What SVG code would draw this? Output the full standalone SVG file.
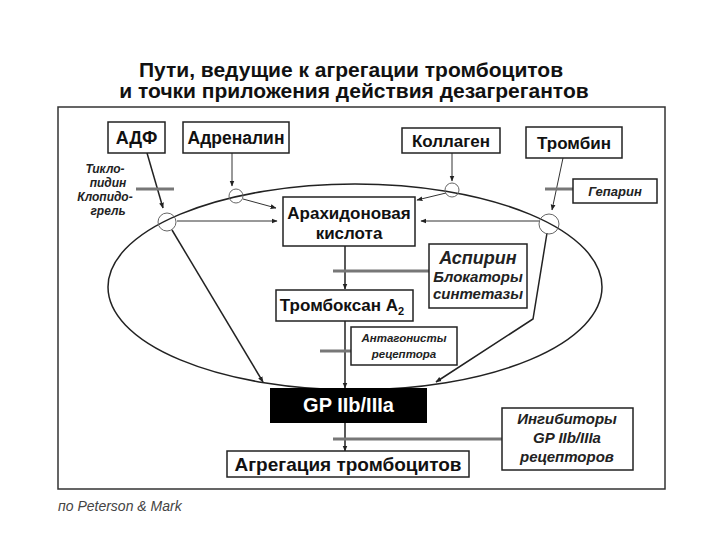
<svg xmlns="http://www.w3.org/2000/svg" width="720" height="540" viewBox="0 0 720 540">
<defs>
<style>
.box{fill:#fff;stroke:#222;stroke-width:1.5}
.bt{font-family:"Liberation Sans",Arial,sans-serif;font-weight:bold;fill:#111;text-anchor:middle}
.it{font-family:"Liberation Sans",Arial,sans-serif;font-style:italic;font-weight:bold;fill:#222;text-anchor:middle}
.ln{fill:none;stroke:#222;stroke-width:1.5}
.thin{fill:none;stroke:#333;stroke-width:1}
.bar{stroke:#777;stroke-width:3;fill:none}
.rc{fill:none;stroke:#666;stroke-width:1}
</style>
<marker id="ah" viewBox="0 0 10 10" refX="9" refY="5" markerWidth="6" markerHeight="6" orient="auto-start-reverse" markerUnits="userSpaceOnUse"><path d="M0,1 L10,5 L0,9 z" fill="#222"/></marker>
</defs>
<rect width="720" height="540" fill="#fff"/>
<g id="title">
<text class="bt" x="351" y="77" font-size="21">Пути, ведущие к агрегации тромбоцитов</text>
<text class="bt" x="354" y="98" font-size="21">и точки приложения действия дезагрегантов</text>
</g>
<rect x="58" y="107" width="607" height="382" fill="none" stroke="#333" stroke-width="1.5"/>
<ellipse id="cell" cx="355" cy="287" rx="247" ry="103" fill="none" stroke="#222" stroke-width="1.5"/>
<g id="connectors">
<line class="ln" x1="147" y1="153" x2="163" y2="208" marker-end="url(#ah)"/>
<line class="ln" x1="172" y1="230" x2="263" y2="382" marker-end="url(#ah)"/>
<line class="thin" x1="177" y1="221" x2="277" y2="221" marker-end="url(#ah)"/>
<line class="thin" x1="232" y1="153" x2="232" y2="186" marker-end="url(#ah)"/>
<line class="thin" x1="243" y1="199" x2="276" y2="208" marker-end="url(#ah)"/>
<line class="thin" x1="452" y1="153" x2="452" y2="181" marker-end="url(#ah)"/>
<line class="thin" x1="446" y1="193" x2="417" y2="200" marker-end="url(#ah)"/>
<line class="thin" x1="563" y1="158" x2="552" y2="210" marker-end="url(#ah)"/>
<line class="thin" x1="539" y1="221" x2="421" y2="221" marker-end="url(#ah)"/>
<polyline class="ln" points="547,233 533,319 436,382" marker-end="url(#ah)"/>
<line class="ln" x1="345" y1="246" x2="345" y2="289" marker-end="url(#ah)"/>
<line class="ln" x1="345" y1="321" x2="345" y2="388" marker-end="url(#ah)"/>
<line class="ln" x1="345" y1="423" x2="345" y2="451" marker-end="url(#ah)"/>
<line class="bar" x1="136" y1="189" x2="174" y2="189"/>
<line class="bar" x1="545" y1="189" x2="573" y2="189"/>
<line class="bar" x1="333" y1="271" x2="429" y2="271"/>
<line class="bar" x1="320" y1="351" x2="351" y2="351"/>
<line class="bar" x1="333" y1="439" x2="502" y2="439"/>
</g>
<g id="receptors">
<circle class="rc" cx="167" cy="222" r="9"/>
<circle class="rc" cx="236" cy="196" r="7"/>
<circle class="rc" cx="452" cy="190" r="7"/>
<circle class="rc" cx="549" cy="224" r="10"/>
</g>
<g id="adf"><rect class="box" x="108" y="122" width="57" height="31"/><text class="bt" x="136.5" y="144" font-size="18">АДФ</text></g>
<g id="adrenalin"><rect class="box" x="183" y="122" width="106" height="31"/><text class="bt" x="236" y="144" font-size="17.5">Адреналин</text></g>
<g id="kollagen"><rect class="box" x="402" y="128" width="98" height="25"/><text class="bt" x="451" y="147" font-size="17">Коллаген</text></g>
<g id="trombin"><rect class="box" x="526" y="127" width="96" height="31"/><text class="bt" x="574" y="149" font-size="17">Тромбин</text></g>
<g id="geparin"><rect class="box" x="573" y="179" width="84" height="24"/><text class="it" x="615" y="196" font-size="13" font-weight="normal">Гепарин</text></g>
<g id="tiklopidin">
<text class="it" x="105" y="173" font-size="12" font-weight="normal">Тикло-</text>
<text class="it" x="108" y="187" font-size="12" font-weight="normal">пидин</text>
<text class="it" x="105" y="201" font-size="12" font-weight="normal">Клопидо-</text>
<text class="it" x="108" y="215" font-size="12" font-weight="normal">грель</text>
</g>
<g id="arachidon"><rect class="box" x="283" y="197" width="132" height="49"/><text class="bt" x="349" y="219" font-size="17">Арахидоновая</text><text class="bt" x="349" y="239" font-size="17">кислота</text></g>
<g id="aspirin"><rect class="box" x="429" y="244" width="98" height="64"/><text class="it" x="478" y="264" font-size="18">Аспирин</text><text class="it" x="478" y="282" font-size="15">Блокаторы</text><text class="it" x="478" y="299" font-size="15">синтетазы</text></g>
<g id="tromboxan"><rect class="box" x="276" y="290" width="137" height="31"/><text class="bt" x="342" y="311" font-size="17">Тромбоксан А<tspan font-size="11" dy="4">2</tspan></text></g>
<g id="antagonist"><rect class="box" x="351" y="327" width="106" height="38"/><text class="it" x="404" y="342" font-size="11.5">Антагонисты</text><text class="it" x="404" y="358" font-size="11.5">рецептора</text></g>
<g id="gp"><rect x="270" y="388" width="157" height="35" fill="#000"/><text class="bt" x="348.5" y="412" font-size="20" style="fill:#fff">GP IIb/IIIa</text></g>
<g id="aggregation"><rect class="box" x="227" y="451" width="242" height="26"/><text class="bt" x="348" y="471" font-size="19">Агрегация тромбоцитов</text></g>
<g id="inhibitors"><rect class="box" x="502" y="408" width="131" height="62"/><text class="it" x="567" y="424" font-size="15">Ингибиторы</text><text class="it" x="567" y="443" font-size="15">GP IIb/IIIa</text><text class="it" x="567" y="462" font-size="15">рецепторов</text></g>
<text x="58" y="511" font-family="Liberation Sans,Arial,sans-serif" font-style="italic" font-size="14" fill="#444">по Peterson &amp; Mark</text>
</svg>
